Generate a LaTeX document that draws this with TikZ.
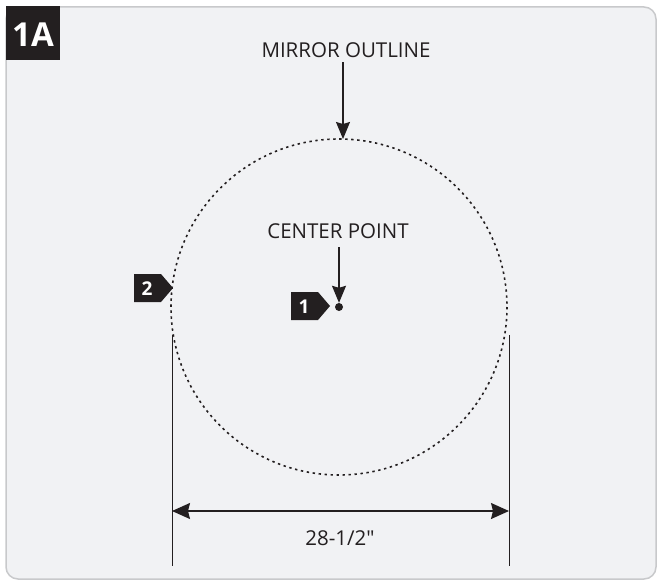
\documentclass[tikz,border=0pt]{standalone}
\usepackage{fontspec}
\setmainfont{Open Sans}
\usetikzlibrary{arrows.meta}
\definecolor{panelfill}{HTML}{F1F2F4}
\definecolor{panelline}{HTML}{C8C9CB}
\definecolor{ink}{HTML}{231F20}
\newcommand{\straightquote}{\XeTeXglyph\XeTeXcharglyph34\relax}
\tikzset{
  lbl/.style={font=\fontsize{20.5}{24}\selectfont, text=ink, inner sep=0pt},
  pointer/.style={draw=ink, line width=1.3pt, -{Stealth[length=17pt,width=14pt,inset=2pt]}},
  dimline/.style={draw=ink, line width=1pt},
  tagtext/.style={font=\bfseries\fontsize{19}{22}\selectfont, text=white, inner sep=0pt}
}
\begin{document}
\begin{tikzpicture}[x=1pt,y=-1pt]
\useasboundingbox (0,0) rectangle (660,586);
% panel
\draw[panelline, line width=1.5pt, fill=panelfill, rounded corners=12pt] (6,7) rectangle (656,579);
% 1A tag
\fill[ink] (6,6) rectangle (60,60);
\node[font=\fontsize{33}{36}\selectfont\bfseries, text=white, inner sep=0pt] (tagA) at (33,35) {1A};
% mirror circle
\coordinate (c) at (339,307);
\draw[ink, line width=1.6pt, dash pattern=on 2.4pt off 3.6pt] (c) circle[radius=168];
\node[circle, fill=ink, inner sep=0pt, minimum size=8pt] (dot) at (c) {};
% mirror outline
\node[lbl] (mo) at (346,50) {MIRROR OUTLINE};
\coordinate (motop) at (343,139);
\draw[pointer] (343,62) -- (motop);
% center point
\node[lbl] (cp) at (338,231) {CENTER POINT};
\draw[pointer] (339,247) -- (dot.north);
% tag 1
\fill[ink] (291,292) -- (318,292) -- (330,306) -- (318,320) -- (291,320) -- cycle;
\node[tagtext] (t1) at (304,306.5) {1};
% tag 2
\fill[ink] (134,274) -- (161,274) -- (173,288) -- (161,302) -- (134,302) -- cycle;
\node[tagtext] (t2) at (147,288.5) {2};
% dimension
\coordinate (l1) at (172,335); \coordinate (l2) at (172,566);
\coordinate (r1) at (509,335); \coordinate (r2) at (509,566);
\draw[dimline] (l1) -- (l2);
\draw[dimline] (r1) -- (r2);
\coordinate (al) at (172,511); \coordinate (ar) at (509,511);
\draw[draw=ink, line width=1.3pt, {Stealth[length=18pt,width=16pt,inset=2pt]}-{Stealth[length=18pt,width=16pt,inset=2pt]}] (al) -- (ar);
\node[lbl] (dim) at (340,538) {28-1/2\straightquote};
\end{tikzpicture}
\end{document}
